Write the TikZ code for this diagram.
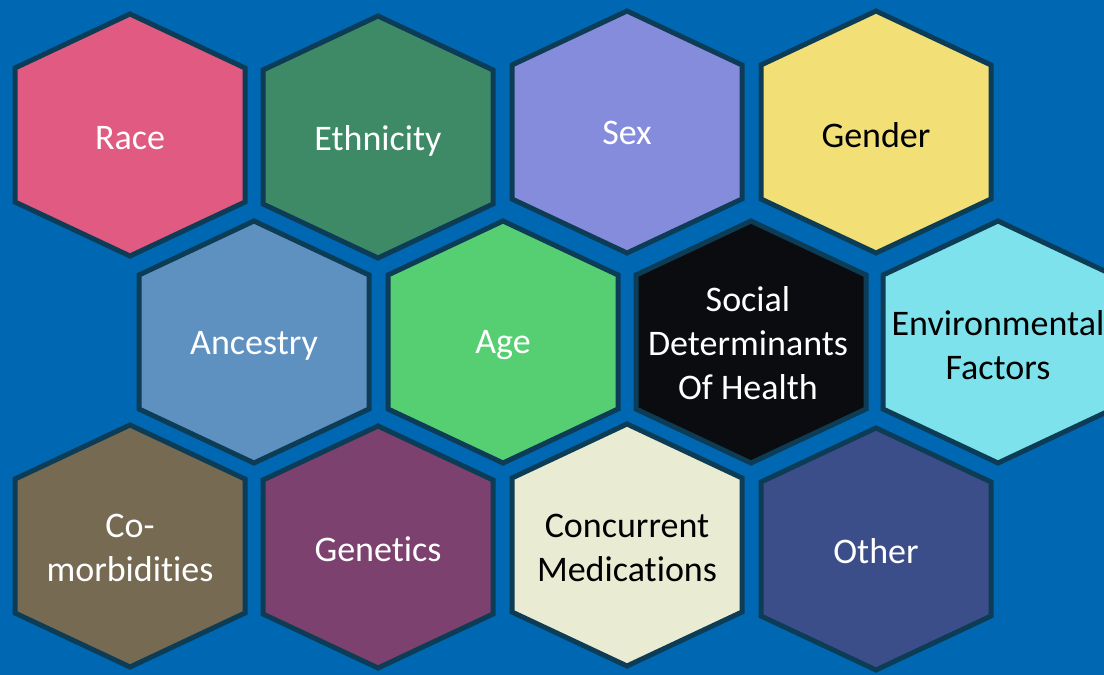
\documentclass[tikz,border=0pt]{standalone}
\usepackage{fontspec}
\setmainfont{Carlito}[Ligatures=NoCommon]
\definecolor{bgblue}{RGB}{0,103,178}
\definecolor{hexborder}{RGB}{13,61,86}
\definecolor{racecol}{RGB}{224,90,130}
\definecolor{ethniccol}{RGB}{62,138,102}
\definecolor{sexcol}{RGB}{134,140,220}
\definecolor{gendercol}{RGB}{242,224,119}
\definecolor{ancestrycol}{RGB}{94,144,192}
\definecolor{agecol}{RGB}{85,207,114}
\definecolor{sdohcol}{RGB}{10,12,16}
\definecolor{envcol}{RGB}{125,226,236}
\definecolor{comorbcol}{RGB}{118,106,83}
\definecolor{geneticcol}{RGB}{124,65,110}
\definecolor{medscol}{RGB}{233,235,211}
\definecolor{othercol}{RGB}{59,78,138}
\tikzset{
    hexline/.style = {line width=5pt, draw=hexborder, line join=miter},
    hexpath/.style = {insert path={++(0,-121) -- ++(115,54) -- ++(0,134) -- ++(-115,54) -- ++(-115,-54) -- ++(0,-134) -- cycle}},
    hexlabel/.style = {align=center, text=white, inner sep=0pt, font=\fontsize{36}{44}\selectfont},
    hexlabeld/.style = {hexlabel, text=black}
}

\begin{document}
\begin{tikzpicture}[x=1pt, y=-1pt]
  \useasboundingbox (0,0) rectangle (1104,675);
  \clip (0,0) rectangle (1104,675);
  \fill[bgblue] (0,0) rectangle (1104,675);

  % top row
  \draw[hexline, fill=racecol]    (130,135) [hexpath];
  \draw[hexline, fill=ethniccol]  (378,137) [hexpath];
  \draw[hexline, fill=sexcol]     (627,132) [hexpath];
  \draw[hexline, fill=gendercol]  (876,132) [hexpath];
  % middle row
  \draw[hexline, fill=ancestrycol] (254,342) [hexpath];
  \draw[hexline, fill=agecol]      (503,342) [hexpath];
  \draw[hexline, fill=sdohcol]     (751,342) [hexpath];
  \draw[hexline, fill=envcol]      (998,342) [hexpath];
  % bottom row
  \draw[hexline, fill=comorbcol]  (130,546) [hexpath];
  \draw[hexline, fill=geneticcol] (378,547) [hexpath];
  \draw[hexline, fill=medscol]    (627,545) [hexpath];
  \draw[hexline, fill=othercol]   (876,549) [hexpath];

  \node[hexlabel]  (race)      at (130,138) {Race};
  \node[hexlabel]  (ethnicity) at (378,141) {Ethnicity};
  \node[hexlabel]  (sex)       at (627,133) {Sex};
  \node[hexlabeld] (gender)    at (876,135) {Gender};
  \node[hexlabel]  (ancestry)  at (254,346) {Ancestry};
  \node[hexlabel]  (age)       at (503,345) {Age};
  \node[hexlabel]  (sdoh)      at (748,343) {Social\\Determinants\\Of Health};
  \node[hexlabeld] (env)       at (998,345) {Environmental\\Factors};
  \node[hexlabel]  (comorb)    at (130,548) {Co-\\morbidities};
  \node[hexlabel]  (genetics)  at (378,549) {Genetics};
  \node[hexlabeld] (meds)      at (627,548) {Concurrent\\Medications};
  \node[hexlabel]  (other)     at (876,551) {Other};
\end{tikzpicture}
\end{document}
